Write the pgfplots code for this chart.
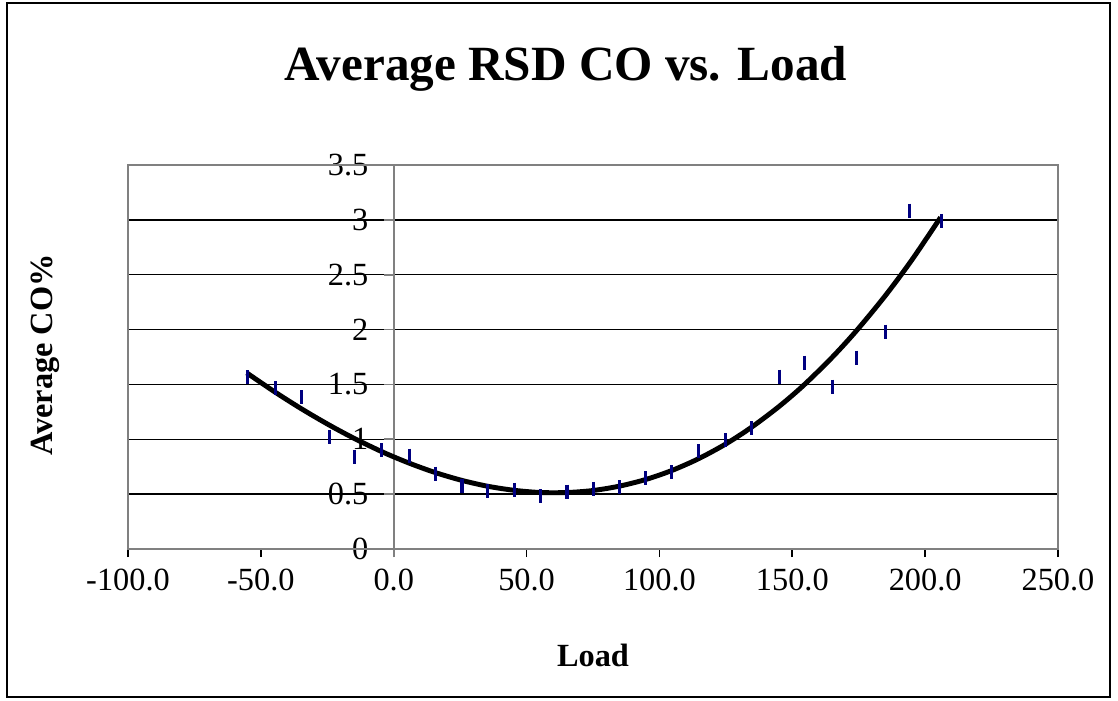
\documentclass[border=0pt]{standalone}
\usepackage{fontspec}
\setmainfont{Liberation Serif}
\usepackage{pgfplots}
\pgfplotsset{compat=1.18}
\definecolor{navyblue}{RGB}{0,0,128}
\definecolor{frame}{RGB}{128,128,128}
\begin{document}
\begin{tikzpicture}
\useasboundingbox (0,0) rectangle (11.18cm,7cm);
\draw[line width=0.6pt] (0.07cm,0.03cm) rectangle (11.1cm,6.97cm);
\begin{axis}[
  at={(1.28cm,1.51cm)}, anchor=south west,
  scale only axis, width=9.3cm, height=3.84cm,
  xmin=-100, xmax=250, ymin=0, ymax=3.5,
  axis x line=bottom, axis y line=left,
  axis line style={-},
  x axis line style={black, line width=0.5pt},
  y axis line style={draw=none},
  xtick={-100,-50,...,250}, ytick={0,0.5,...,3.5},
  x tick style={black, line width=0.5pt},
  tick align=outside, major tick length=0.8mm,
  y tick style={draw=none},
  scaled x ticks=false,
  xticklabel style={/pgf/number format/fixed, /pgf/number format/fixed zerofill,
    /pgf/number format/precision=1},
  yticklabel style={anchor=east, inner sep=0pt, xshift=2.49cm},
  /pgf/number format/assume math mode=true,
  tick label style={font=\fontsize{9.2}{11}\selectfont},
  ymajorgrids, grid style={black, line width=0.4pt},
  title={Average RSD CO vs. Load},
  title style={font=\fontsize{14}{16}\selectfont\bfseries,
    at={(axis description cs:0.471,1.195)}, anchor=center},
  xlabel={Load}, ylabel={Average CO\%},
  xlabel style={font=\fontsize{9.2}{11}\selectfont\bfseries,
    at={(axis description cs:0.5,-0.276)}, anchor=center},
  ylabel style={font=\fontsize{9.2}{11}\selectfont\bfseries,
    at={(axis description cs:-0.089,0.505)}, anchor=center},
  clip=false,
]
\draw[frame, line width=0.5pt] (rel axis cs:0,0) rectangle (rel axis cs:1,1);
\draw[frame, line width=0.5pt] (axis cs:0,3.5) -- (axis cs:0,0) -- ([yshift=-0.8mm]axis cs:0,0);
\pgfplotsinvokeforeach{0.5,1,1.5,2,2.5,3,3.5}{
  \draw[frame, line width=0.5pt] (axis cs:0,#1) -- ([xshift=-1mm]axis cs:0,#1);
}
% polynomial trend line
\addplot[black, line width=1.4pt, smooth] coordinates {
  (-55.3,1.605) (-44.7,1.431) (-34.6,1.276) (-24.2,1.129) (-14.6,1.005)
  (-3.9,0.881) (5.8,0.783) (15.5,0.698) (25.6,0.626) (35.4,0.572)
  (45.4,0.535) (55.3,0.515) (65.1,0.515) (74.9,0.533) (84.9,0.573)
  (94.9,0.634) (104.7,0.716) (114.8,0.824) (125.0,0.958) (134.6,1.109)
  (145.0,1.299) (154.3,1.493) (165.0,1.747) (174.3,1.994) (185.0,2.309)
  (195.0,2.635) (205.8,3.023)
};
% measured averages
\addplot[only marks, mark=|, mark size=2pt,
  mark options={navyblue, line width=0.9pt}] coordinates {
  (-55.0,1.567) (-44.5,1.465) (-34.8,1.383) (-24.2,1.022) (-14.8,0.842)
  (-4.5,0.902) (5.8,0.851) (15.7,0.687) (25.7,0.577) (35.4,0.530)
  (45.4,0.538) (55.3,0.483) (65.2,0.522) (75.1,0.547) (85.1,0.565)
  (94.8,0.644) (104.6,0.699) (114.8,0.890) (125.0,0.990) (134.6,1.100)
  (145.1,1.571) (154.5,1.698) (165.1,1.480) (174.3,1.744) (185.2,1.981)
  (194.1,3.084) (206.1,2.990)
};
\end{axis}
\end{tikzpicture}
\end{document}
